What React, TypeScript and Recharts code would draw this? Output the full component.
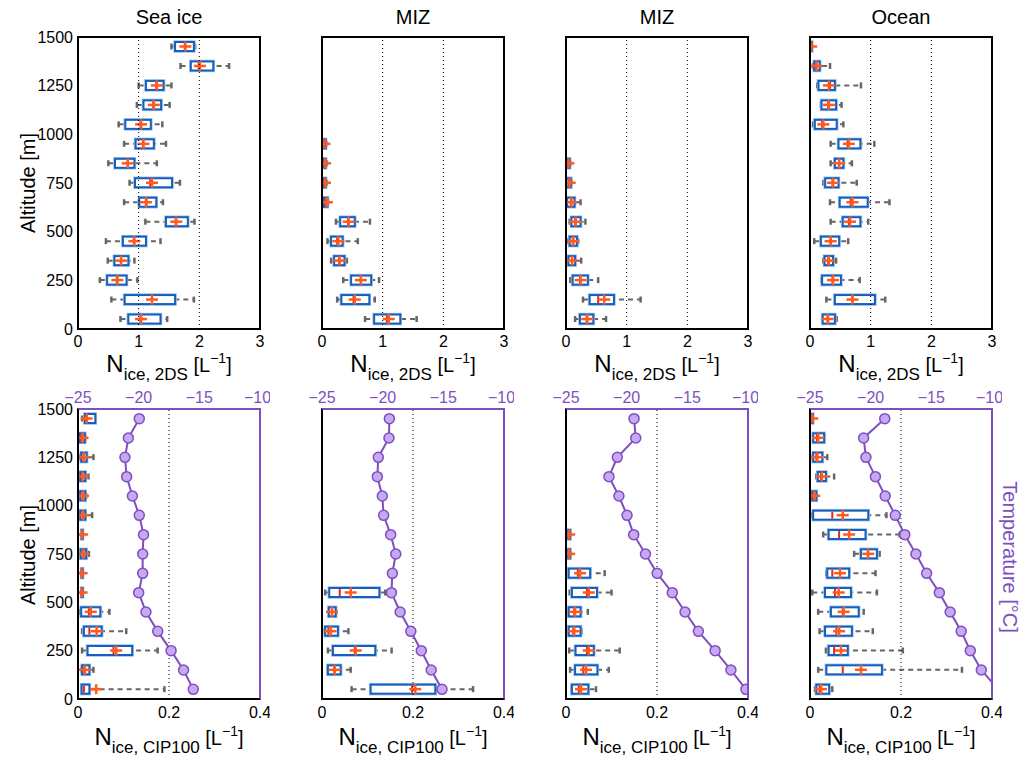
import { ComposedChart, Bar, Line, XAxis, YAxis, ReferenceLine } from 'recharts'

const FONT = '"Liberation Sans", Arial, Helvetica, sans-serif'
const PURPLE = '#7e4fbf'
const PURPLE_FILL = '#c7a8f2'
const BLUE = '#1560bd'
const GRAY = '#666666'
const MEDIAN_RED = '#e8270f'
const MEAN_ORANGE = '#ff5a1f'
const BOX_H = 9

// altitude bins, top of the plot first
const altitudes = [1450, 1350, 1250, 1150, 1050, 950, 850, 750, 650, 550, 450, 350, 250, 150, 50]
const altitudeTicks = [0, 250, 500, 750, 1000, 1250, 1500]
const ticks2ds = [0, 1, 2, 3]
const ticksCip = [0, 0.2, 0.4]
const tempTicks = [-25, -20, -15, -10]
const panelTitles = ['Sea ice', 'MIZ', 'MIZ', 'Ocean']

// [low whisker, q1, median, q3, high whisker, mean]
type Stat = number[] | null

const seaIce2ds: Stat[] = [
	[1.54, 1.6, 1.76, 1.91, 1.93, 1.77],
	[1.69, 1.86, 1.99, 2.23, 2.49, 2.01],
	[1.0, 1.12, 1.29, 1.41, 1.54, 1.3],
	[0.97, 1.08, 1.24, 1.37, 1.51, 1.25],
	[0.67, 0.78, 1.03, 1.2, 1.39, 1.04],
	[0.76, 0.95, 1.07, 1.25, 1.45, 1.08],
	[0.5, 0.61, 0.82, 0.93, 1.3, 0.82],
	[0.85, 0.94, 1.19, 1.55, 1.68, 1.22],
	[0.76, 1.01, 1.13, 1.29, 1.4, 1.12],
	[1.11, 1.45, 1.61, 1.81, 1.92, 1.62],
	[0.46, 0.74, 0.92, 1.12, 1.36, 0.93],
	[0.49, 0.6, 0.71, 0.83, 0.93, 0.71],
	[0.36, 0.48, 0.64, 0.8, 0.98, 0.65],
	[0.55, 0.77, 1.22, 1.6, 1.91, 1.22],
	[0.7, 0.83, 1.03, 1.36, 1.47, 1.04]
]

const miz2ds: Stat[] = [
	null, null, null, null, null,
	[0.0, 0.01, 0.03, 0.06, 0.07, 0.04],
	[0.0, 0.02, 0.04, 0.06, 0.08, 0.05],
	[0.0, 0.02, 0.04, 0.06, 0.08, 0.05],
	[0.01, 0.03, 0.06, 0.09, 0.1, 0.08],
	[0.23, 0.3, 0.43, 0.54, 0.79, 0.44],
	[0.09, 0.15, 0.25, 0.34, 0.59, 0.27],
	[0.15, 0.2, 0.28, 0.37, 0.41, 0.29],
	[0.35, 0.48, 0.64, 0.81, 0.94, 0.64],
	[0.25, 0.32, 0.52, 0.78, 0.87, 0.54],
	[0.71, 0.86, 1.07, 1.29, 1.56, 1.1]
]

const miz2ds2: Stat[] = [
	null, null, null, null, null, null,
	[0.0, 0.01, 0.03, 0.06, 0.07, 0.04],
	[0.0, 0.01, 0.05, 0.08, 0.09, 0.06],
	[0.01, 0.02, 0.08, 0.14, 0.24, 0.09],
	[0.06, 0.09, 0.15, 0.24, 0.32, 0.16],
	[0.04, 0.06, 0.11, 0.18, 0.2, 0.12],
	[0.03, 0.04, 0.1, 0.15, 0.25, 0.1],
	[0.07, 0.11, 0.23, 0.36, 0.53, 0.24],
	[0.28, 0.39, 0.53, 0.79, 1.23, 0.63],
	[0.15, 0.23, 0.34, 0.45, 0.66, 0.35]
]

const ocean2ds: Stat[] = [
	[0.01, 0.01, 0.02, 0.03, 0.03, 0.02],
	[0.05, 0.07, 0.1, 0.16, 0.33, 0.11],
	[0.12, 0.14, 0.33, 0.41, 0.84, 0.31],
	[0.18, 0.19, 0.3, 0.43, 0.52, 0.31],
	[0.05, 0.08, 0.2, 0.44, 0.55, 0.22],
	[0.34, 0.47, 0.62, 0.83, 1.06, 0.64],
	[0.34, 0.41, 0.48, 0.55, 0.69, 0.48],
	[0.22, 0.25, 0.37, 0.47, 0.77, 0.38],
	[0.33, 0.49, 0.67, 0.95, 1.31, 0.7],
	[0.34, 0.54, 0.64, 0.83, 0.96, 0.66],
	[0.07, 0.18, 0.34, 0.48, 0.63, 0.34],
	[0.22, 0.24, 0.3, 0.38, 0.43, 0.31],
	[0.19, 0.2, 0.37, 0.51, 0.82, 0.38],
	[0.27, 0.41, 0.7, 1.07, 1.24, 0.7],
	[0.2, 0.21, 0.3, 0.41, 0.44, 0.29]
]

const seaIceCip: Stat[] = [
	[0.009, 0.015, 0.019, 0.038, 0.038, 0.019],
	[0.003, 0.004, 0.008, 0.015, 0.016, 0.01],
	[0.004, 0.007, 0.012, 0.019, 0.034, 0.013],
	[0.004, 0.005, 0.009, 0.016, 0.023, 0.01],
	[0.004, 0.005, 0.01, 0.016, 0.018, 0.011],
	[0.004, 0.005, 0.01, 0.016, 0.031, 0.011],
	[0.008, 0.008, 0.009, 0.009, 0.01, 0.009],
	[0.005, 0.006, 0.012, 0.018, 0.024, 0.012],
	[0.008, 0.008, 0.008, 0.008, 0.009, 0.008],
	[0.008, 0.008, 0.008, 0.008, 0.009, 0.008],
	[0.005, 0.007, 0.024, 0.049, 0.069, 0.028],
	[0.009, 0.013, 0.025, 0.052, 0.106, 0.041],
	[0.009, 0.021, 0.078, 0.119, 0.175, 0.084],
	[0.008, 0.009, 0.014, 0.025, 0.034, 0.015],
	[0.008, 0.008, 0.013, 0.025, 0.19, 0.04]
]

const mizCip: Stat[] = [
	null, null, null, null, null, null, null, null, null,
	[0.007, 0.016, 0.039, 0.126, 0.139, 0.063],
	[0.014, 0.015, 0.022, 0.03, 0.031, 0.022],
	[0.006, 0.007, 0.014, 0.035, 0.058, 0.019],
	[0.013, 0.024, 0.072, 0.117, 0.153, 0.074],
	[0.013, 0.013, 0.027, 0.041, 0.063, 0.028],
	[0.065, 0.107, 0.198, 0.249, 0.332, 0.205]
]

const mizCip2: Stat[] = [
	null, null, null, null, null, null,
	[0.004, 0.005, 0.007, 0.009, 0.01, 0.007],
	[0.004, 0.005, 0.007, 0.009, 0.01, 0.007],
	[0.006, 0.006, 0.026, 0.053, 0.085, 0.031],
	[0.008, 0.013, 0.046, 0.068, 0.1, 0.05],
	[0.006, 0.006, 0.018, 0.032, 0.048, 0.02],
	[0.005, 0.006, 0.016, 0.032, 0.034, 0.018],
	[0.007, 0.021, 0.046, 0.061, 0.118, 0.05],
	[0.009, 0.02, 0.038, 0.069, 0.094, 0.044],
	[0.012, 0.013, 0.028, 0.049, 0.066, 0.033]
]

const oceanCip: Stat[] = [
	[0.004, 0.004, 0.005, 0.006, 0.006, 0.005],
	[0.007, 0.007, 0.015, 0.031, 0.031, 0.018],
	[0.006, 0.007, 0.014, 0.027, 0.038, 0.016],
	[0.014, 0.017, 0.024, 0.035, 0.053, 0.026],
	[0.005, 0.005, 0.009, 0.014, 0.014, 0.009],
	[0.005, 0.007, 0.049, 0.128, 0.168, 0.072],
	[0.029, 0.041, 0.064, 0.122, 0.197, 0.086],
	[0.097, 0.112, 0.127, 0.147, 0.153, 0.128],
	[0.036, 0.038, 0.049, 0.086, 0.144, 0.066],
	[0.005, 0.033, 0.055, 0.09, 0.147, 0.063],
	[0.018, 0.046, 0.072, 0.107, 0.118, 0.074],
	[0.021, 0.033, 0.058, 0.092, 0.138, 0.064],
	[0.035, 0.041, 0.053, 0.083, 0.204, 0.068],
	[0.018, 0.036, 0.072, 0.158, 0.334, 0.112],
	[0.011, 0.014, 0.021, 0.042, 0.049, 0.024]
]

// temperature profiles (deg C), same altitude order
const seaIceTemp = [-19.95, -20.85, -21.13, -20.99, -20.52, -19.95, -19.6, -19.67, -19.67, -20.0, -19.4, -18.43, -17.33, -16.3, -15.5]
const mizTemp = [-19.45, -19.48, -20.36, -20.44, -20.03, -19.92, -19.34, -18.92, -19.2, -19.28, -18.56, -17.68, -16.82, -16.0, -15.11]
const mizTemp2 = [-19.39, -19.25, -20.77, -21.46, -20.64, -19.97, -19.42, -18.45, -17.49, -16.24, -15.19, -14.09, -12.71, -11.41, -10.17]
const oceanTemp = [-18.84, -20.58, -20.39, -19.61, -18.8, -17.97, -17.19, -16.27, -15.39, -14.34, -13.45, -12.54, -11.79, -10.88, -9.5]

const topStats = [seaIce2ds, miz2ds, miz2ds2, ocean2ds]
const bottomStats = [seaIceCip, mizCip, mizCip2, oceanCip]
const bottomTemps = [seaIceTemp, mizTemp, mizTemp2, oceanTemp]

const minus = (v: number) => (v < 0 ? '\u2212' + Math.abs(v) : String(v))

const WhiskerShape = (p: any) => {
	if (!p.payload || !p.payload.box) return <g />
	const { x, y, width, height } = p
	const cy = y + height / 2
	return (
		<g>
			<line x1={x} x2={x + width} y1={cy} y2={cy} stroke={GRAY} strokeWidth={2} strokeDasharray="5 4" />
			<line x1={x} x2={x} y1={cy - 3} y2={cy + 3} stroke={GRAY} strokeWidth={2.5} />
			<line x1={x + width} x2={x + width} y1={cy - 3} y2={cy + 3} stroke={GRAY} strokeWidth={2.5} />
		</g>
	)
}

const BoxShape = (p: any) => {
	if (!p.payload || !p.payload.box) return <g />
	const { x, y, width, height } = p
	return (
		<g>
			<rect x={x} y={y} width={Math.max(width, 1)} height={height} fill="none" stroke="#9cc0ec" strokeWidth={3.5} />
			<rect x={x} y={y} width={Math.max(width, 1)} height={height} fill="#fff" stroke={BLUE} strokeWidth={2} />
		</g>
	)
}

const MedianShape = (p: any) => {
	if (!p.payload || !p.payload.box) return <g />
	const { x, y, width, height } = p
	return <line x1={x + width} x2={x + width} y1={y + 1} y2={y + height - 1} stroke={MEDIAN_RED} strokeWidth={2} />
}

const MeanShape = (p: any) => {
	if (!p.payload || !p.payload.box) return <g />
	const { x, y, width, height } = p
	const cx = x + width
	const cy = y + height / 2
	return (
		<g stroke={MEAN_ORANGE} strokeWidth={2.5}>
			<line x1={cx - 6} x2={cx + 6} y1={cy} y2={cy} />
			<line x1={cx} x2={cx} y1={cy - 5} y2={cy + 5} />
		</g>
	)
}

function Panel({ stats, temps, row, col }: { stats: Stat[]; temps?: number[]; row: number; col: number }) {
	const bottom = row === 1
	const data = altitudes.map((alt, i) => ({ alt, box: stats[i], t: temps ? temps[i] : null }))
	const xMax = bottom ? 0.4 : 3
	const plotTop = bottom ? 409 : 37
	const plotH = bottom ? 290 : 292
	const plotLeft = 78 + 244 * col
	const headroom = bottom ? 32 : 12
	const tickStyle = { fill: '#000', fontSize: 16, fontFamily: FONT }
	return (
		<>
			<div style={{ position: 'absolute', left: plotLeft - 60, top: plotTop - headroom }}>
				<ComposedChart
					width={252}
					height={headroom + plotH + 30}
					data={data}
					layout="vertical"
					barGap={-BOX_H}
					margin={{ top: bottom ? 2 : headroom, right: 10, bottom: 0, left: 0 }}
				>
					<XAxis
						xAxisId="x"
						type="number"
						domain={[0, xMax]}
						ticks={bottom ? ticksCip : ticks2ds}
						allowDataOverflow
						height={30}
						axisLine={false}
						tickLine={false}
						tickSize={4}
						tickMargin={bottom ? 4 : 3}
						tick={tickStyle}
					/>
					{bottom && (
						<XAxis
							xAxisId="temp"
							orientation="top"
							type="number"
							domain={[-25, -10]}
							ticks={tempTicks}
							allowDataOverflow
							height={30}
							axisLine={false}
							tickLine={false}
							tickSize={2}
							tickMargin={4}
							tick={{ fill: PURPLE, fontSize: 16, fontFamily: FONT }}
							tickFormatter={minus}
						/>
					)}
					<YAxis yAxisId="cat" type="category" dataKey="alt" hide width={0} />
					<YAxis
						yAxisId="num"
						type="number"
						dataKey="alt"
						domain={[0, 1500]}
						ticks={altitudeTicks}
						interval={0}
						reversed
						allowDataOverflow
						width={60}
						axisLine={false}
						tickLine={false}
						tickSize={3}
						tickMargin={2}
						tick={col === 0 ? tickStyle : false}
					/>
					{(bottom ? [0.2] : [1, 2]).map((v) => (
						<ReferenceLine key={v} x={v} xAxisId="x" yAxisId="num" stroke="#000" strokeDasharray="1 3" />
					))}
					<Bar
						xAxisId="x"
						yAxisId="cat"
						dataKey={(d: any) => (d.box ? [d.box[0], d.box[4]] : null)}
						barSize={BOX_H}
						shape={WhiskerShape}
						isAnimationActive={false}
					/>
					<Bar
						xAxisId="x"
						yAxisId="cat"
						dataKey={(d: any) => (d.box ? [d.box[1], d.box[3]] : null)}
						barSize={BOX_H}
						shape={BoxShape}
						isAnimationActive={false}
					/>
					<Bar
						xAxisId="x"
						yAxisId="cat"
						dataKey={(d: any) => (d.box ? [0, d.box[2]] : null)}
						barSize={BOX_H}
						shape={MedianShape}
						isAnimationActive={false}
					/>
					<Bar
						xAxisId="x"
						yAxisId="cat"
						dataKey={(d: any) => (d.box ? [0, d.box[5]] : null)}
						barSize={BOX_H}
						shape={MeanShape}
						isAnimationActive={false}
					/>
					{bottom && (
						<Line
							xAxisId="temp"
							yAxisId="cat"
							dataKey="t"
							stroke={PURPLE}
							strokeWidth={2}
							dot={{ r: 5, fill: PURPLE_FILL, stroke: PURPLE, strokeWidth: 1.5 }}
							isAnimationActive={false}
						/>
					)}
				</ComposedChart>
			</div>
			{/* axes box around the plot area */}
			<div
				style={{
					position: 'absolute',
					left: plotLeft - 1,
					top: plotTop - 1,
					width: 184,
					height: plotH + 2,
					boxSizing: 'border-box',
					borderStyle: 'solid',
					borderWidth: 2,
					borderColor: bottom ? `${PURPLE} ${PURPLE} #000 #000` : '#000',
					pointerEvents: 'none'
				}}
			/>
		</>
	)
}

function NLabel({ x, y, sub }: { x: number; y: number; sub: string }) {
	return (
		<text x={x} y={y} textAnchor="middle" fontSize={24} fill="#000">
			N
			<tspan fontSize={17} dy={8}>{`ice, ${sub}`}</tspan>
			<tspan fontSize={20} dy={-8}>{' [L'}</tspan>
			<tspan fontSize={14} dy={-9}>{'\u22121'}</tspan>
			<tspan fontSize={20} dy={9}>]</tspan>
		</text>
	)
}

export default function App() {
	return (
		<div style={{ position: 'absolute', left: 0, top: 0, width: 1032, height: 764, background: '#fff', fontFamily: FONT }}>
			{topStats.map((s, i) => (
				<Panel key={'t' + i} stats={s} row={0} col={i} />
			))}
			{bottomStats.map((s, i) => (
				<Panel key={'b' + i} stats={s} temps={bottomTemps[i]} row={1} col={i} />
			))}
			<svg width={1032} height={764} style={{ position: 'absolute', left: 0, top: 0, pointerEvents: 'none' }} fontFamily={FONT}>
				{panelTitles.map((t, i) => (
					<text key={t + i} x={169 + 244 * i} y={24} textAnchor="middle" fontSize={20} fill="#000">
						{t}
					</text>
				))}
				{[0, 1, 2, 3].map((i) => (
					<NLabel key={'n2' + i} x={169 + 244 * i} y={372} sub="2DS" />
				))}
				{[0, 1, 2, 3].map((i) => (
					<NLabel key={'nc' + i} x={169 + 244 * i} y={745} sub="CIP100" />
				))}
				<text transform="translate(35,183) rotate(-90)" textAnchor="middle" fontSize={20} fill="#000">
					Altitude [m]
				</text>
				<text transform="translate(35,555) rotate(-90)" textAnchor="middle" fontSize={20} fill="#000">
					Altitude [m]
				</text>
				<text transform="translate(1003,557) rotate(90)" textAnchor="middle" fontSize={20} fill={PURPLE}>
					Temperature [°C]
				</text>
			</svg>
		</div>
	)
}
